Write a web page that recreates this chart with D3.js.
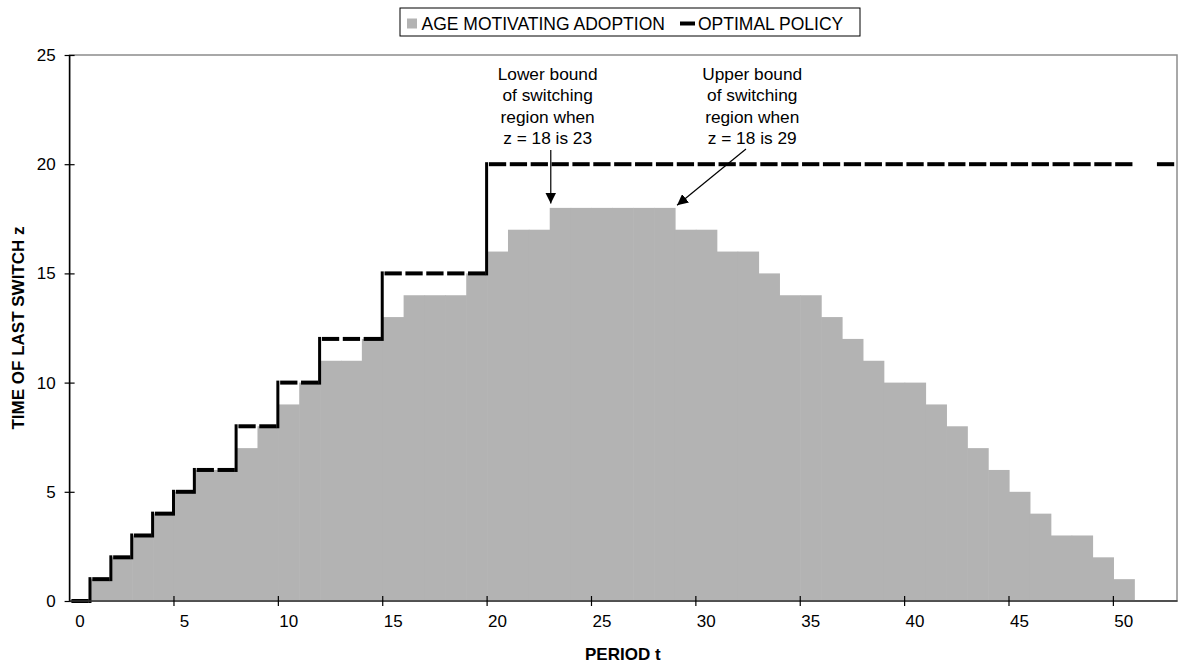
<!DOCTYPE html>
<html>
<head>
<meta charset="utf-8">
<script src="https://cdn.jsdelivr.net/npm/d3@7"></script>
<style>
  body { margin: 0; background: #fff; }
  svg { display: block; font-family: 'Liberation Sans', Arial, sans-serif; }
</style>
</head>
<body>
<script>
// period t (categories)
const periods = [0, 1, 2, 3, 4, 5, 6, 7, 8, 9, 10, 11, 12, 13, 14, 15, 16, 17, 18, 19, 20,
	21, 22, 23, 24, 25, 26, 27, 28, 29, 30, 31, 32, 33, 34, 35, 36, 37, 38, 39, 40,
	41, 42, 43, 44, 45, 46, 47, 48, 49, 50, 51, 52];

// gray columns: age motivating adoption
const ageAdoption = [0, 1, 2, 3, 4, 5, 6, 6, 7, 8, 9, 10, 11, 11, 12, 13, 14, 14, 14, 15, 16,
	17, 17, 18, 18, 18, 18, 18, 18, 17, 17, 16, 16, 15, 14, 14, 13, 12, 11, 10, 10,
	9, 8, 7, 6, 5, 4, 3, 3, 2, 1, 0, 0];

// dashed step line: optimal policy (no dash drawn at t = 51)
const optimalPolicy = [0, 1, 2, 3, 4, 5, 6, 6, 8, 8, 10, 10, 12, 12, 12, 15, 15, 15, 15, 15, 20,
	20, 20, 20, 20, 20, 20, 20, 20, 20, 20, 20, 20, 20, 20, 20, 20, 20, 20, 20, 20,
	20, 20, 20, 20, 20, 20, 20, 20, 20, 20, null, 20];

const xTickValues = [0, 5, 10, 15, 20, 25, 30, 35, 40, 45, 50];
const yTickValues = [0, 5, 10, 15, 20, 25];

const legendLabels = ['AGE MOTIVATING ADOPTION', 'OPTIMAL POLICY'];
const xTitle = 'PERIOD t';
const yTitle = 'TIME OF LAST SWITCH z';

// annotation text + arrow (in data units: t, z)
const annotations = [
	{ lines: ['Lower bound', 'of switching', 'region when', 'z = 18 is 23'], t: 22.4, z: 23.86, from: [22.55, 20.65], to: [22.55, 18.2] },
	{ lines: ['Upper bound', 'of switching', 'region when', 'z = 18 is 29'], t: 32.2, z: 23.86, from: [31.9, 20.7], to: [28.6, 18.12] }
];

const width = 1179;
const height = 665;
const plotLeft = 69.6;
const plotRight = 1176;
const plotTop = 55;
const plotBottom = 601;

const svg = d3.select('body').append('svg').attr('width', width).attr('height', height);

const x = d3.scaleBand().domain(periods).range([ plotLeft, plotRight ]).padding(0);
const xl = d3.scaleLinear().domain([ -0.5, periods.length - 0.5 ]).range([ plotLeft, plotRight ]);
const y = d3.scaleLinear().domain([ 0, 25 ]).range([ plotBottom, plotTop ]);
const bw = x.bandwidth();

// plot area border
svg
	.append('rect')
	.attr('x', plotLeft)
	.attr('y', plotTop)
	.attr('width', plotRight + 1 - plotLeft)
	.attr('height', plotBottom - plotTop)
	.attr('fill', 'none')
	.attr('stroke', '#8c8c8c')
	.attr('stroke-width', 1.5);

// gray columns
const bars = periods.map((t, i) => ({ t, v: ageAdoption[i] }));
svg
	.append('g')
	.selectAll('rect')
	.data(bars.filter((d) => d.v > 0))
	.enter()
	.append('rect')
	.attr('x', (d) => x(d.t))
	.attr('y', (d) => y(d.v))
	.attr('width', bw + 0.6)
	.attr('height', (d) => y(0) - y(d.v))
	.attr('fill', '#b3b3b3');

// optimal policy: one dash per period, solid risers
const policy = periods.map((t, i) => ({ t, v: optimalPolicy[i], prev: i > 0 ? optimalPolicy[i - 1] : null }));
const pg = svg.append('g');
pg
	.selectAll('line.h')
	.data(policy.filter((d) => d.v !== null))
	.enter()
	.append('line')
	.attr('class', 'h')
	.attr('x1', (d) => x(d.t) + 1.8)
	.attr('x2', (d) => x(d.t) + bw - 1.8)
	.attr('y1', (d) => y(d.v))
	.attr('y2', (d) => y(d.v))
	.attr('stroke', '#000')
	.attr('stroke-width', 4);
pg
	.selectAll('line.v')
	.data(policy.filter((d) => d.v !== null && d.prev !== null && d.v !== d.prev))
	.enter()
	.append('line')
	.attr('class', 'v')
	.attr('x1', (d) => x(d.t) - 0.5)
	.attr('x2', (d) => x(d.t) - 0.5)
	.attr('y1', (d) => y(d.prev) + 2)
	.attr('y2', (d) => y(d.v) - 2)
	.attr('stroke', '#000')
	.attr('stroke-width', 3);

// y axis
const yAxis = d3.axisLeft(y).tickValues(yTickValues).tickSize(5).tickPadding(9);
const gy = svg.append('g').attr('transform', `translate(${plotLeft},0)`).call(yAxis);
gy.select('.domain').remove();
gy.append('line').attr('y1', plotTop).attr('y2', plotBottom).attr('stroke', '#000').attr('stroke-width', 1.5);
gy.selectAll('.tick line').attr('x1', 5).attr('stroke', '#000').attr('stroke-width', 1.2);
gy.selectAll('.tick text').attr('font-size', 17).attr('fill', '#000').attr('font-family', null);

// x axis: labels at category centers, tick marks between categories
const xAxis = d3.axisBottom(x).tickValues(xTickValues).tickSize(0).tickPadding(14);
const gx = svg.append('g').attr('transform', `translate(0,${plotBottom})`).call(xAxis);
gx.select('.domain').remove();
gx.selectAll('.tick text').attr('font-size', 17).attr('fill', '#000').attr('font-family', null);
gx.append('line').attr('x1', plotLeft).attr('x2', plotRight + 1.5).attr('stroke', '#333').attr('stroke-width', 1.5);
gx
	.selectAll('line.tk')
	.data(xTickValues.filter((d) => d > 0))
	.enter()
	.append('line')
	.attr('class', 'tk')
	.attr('x1', (d) => x(d))
	.attr('x2', (d) => x(d))
	.attr('y1', -5)
	.attr('y2', 5)
	.attr('stroke', '#000')
	.attr('stroke-width', 1.2);

// axis titles
svg
	.append('text')
	.attr('x', (plotLeft + plotRight) / 2)
	.attr('y', 660)
	.attr('text-anchor', 'middle')
	.attr('font-size', 17)
	.attr('font-weight', 'bold')
	.text(xTitle);
svg
	.append('text')
	.attr('transform', `translate(24,${(plotTop + plotBottom) / 2}) rotate(-90)`)
	.attr('text-anchor', 'middle')
	.attr('font-size', 17)
	.attr('font-weight', 'bold')
	.text(yTitle);

// annotations
svg
	.append('defs')
	.append('marker')
	.attr('id', 'arrow')
	.attr('viewBox', '0 0 10 10')
	.attr('refX', 10)
	.attr('refY', 5)
	.attr('markerWidth', 11)
	.attr('markerHeight', 11)
	.attr('markerUnits', 'userSpaceOnUse')
	.attr('orient', 'auto')
	.append('path')
	.attr('d', 'M0,0 L10,5 L0,10 Z')
	.attr('fill', '#000');

annotations.forEach((a) => {
	const t = svg
		.append('text')
		.attr('x', xl(a.t))
		.attr('y', y(a.z))
		.attr('text-anchor', 'middle')
		.attr('font-size', 17.3);
	t
		.selectAll('tspan')
		.data(a.lines)
		.enter()
		.append('tspan')
		.attr('x', xl(a.t))
		.attr('dy', (d, i) => (i === 0 ? 0 : 21.5))
		.text((d) => d);
	svg
		.append('line')
		.attr('x1', xl(a.from[0]))
		.attr('y1', y(a.from[1]))
		.attr('x2', xl(a.to[0]))
		.attr('y2', y(a.to[1]))
		.attr('stroke', '#000')
		.attr('stroke-width', 1.2)
		.attr('marker-end', 'url(#arrow)');
});

// legend
const legend = svg.append('g');
legend
	.append('rect')
	.attr('x', 400)
	.attr('y', 8)
	.attr('width', 460)
	.attr('height', 28)
	.attr('fill', '#fff')
	.attr('stroke', '#000')
	.attr('stroke-width', 1);
legend.append('rect').attr('x', 407).attr('y', 18.5).attr('width', 10).attr('height', 10).attr('fill', '#b3b3b3');
legend
	.append('text')
	.attr('x', 421.5)
	.attr('y', 30)
	.attr('font-size', 17.5)
	.text(legendLabels[0]);
legend
	.append('line')
	.attr('x1', 680)
	.attr('x2', 695)
	.attr('y1', 23.5)
	.attr('y2', 23.5)
	.attr('stroke', '#000')
	.attr('stroke-width', 4);
legend
	.append('text')
	.attr('x', 698)
	.attr('y', 30)
	.attr('font-size', 17.5)
	.text(legendLabels[1]);
</script>
</body>
</html>
